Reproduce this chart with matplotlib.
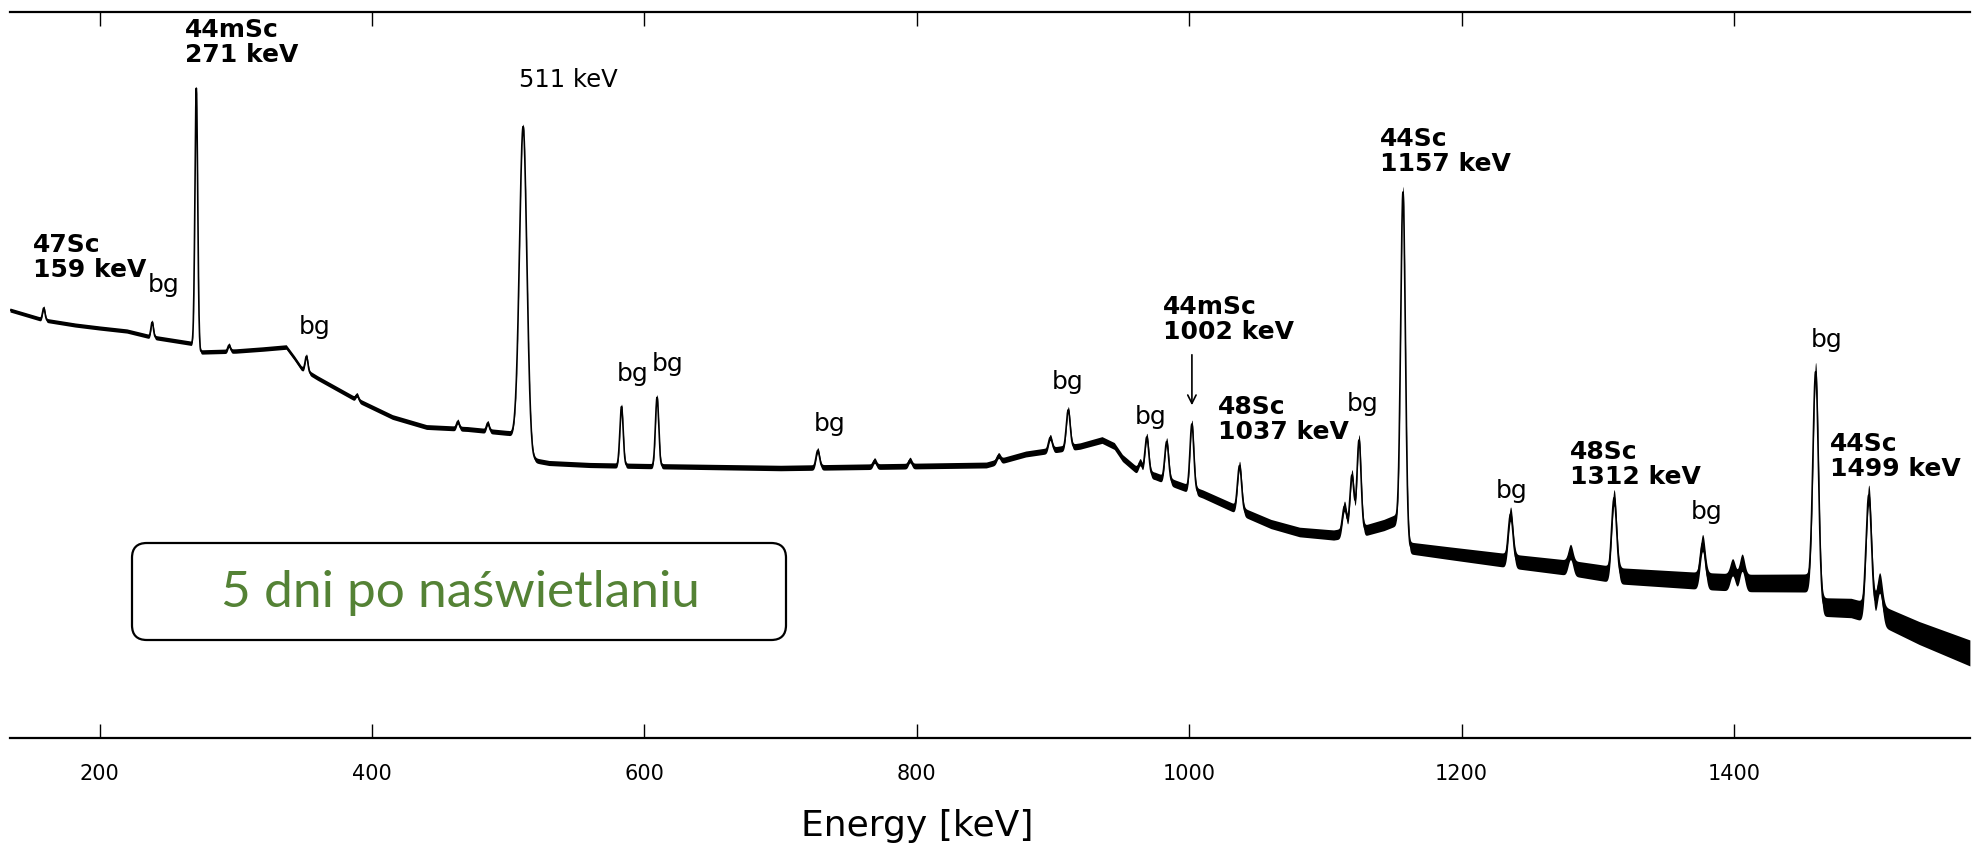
import numpy as np
import matplotlib.pyplot as plt
from matplotlib.patches import FancyBboxPatch

# continuum under the lines (counts, a.u.) at selected energies [keV]
cont_energy = [134.2, 159, 182, 200, 220, 238, 266, 269, 274, 300, 320, 337, 343, 348,
               360, 389, 415, 440, 470, 500, 505, 518, 530, 560, 600, 650, 700, 750,
               800, 851, 880, 900, 920, 936, 945, 951, 963, 975, 990, 1010, 1036, 1060,
               1081, 1106, 1130, 1143, 1152, 1162, 1190, 1236, 1280, 1318, 1377, 1410,
               1456, 1465, 1486, 1512, 1536, 1573.3]
cont_level = [428, 418, 413, 410, 407, 401, 395, 394, 386, 387, 389, 391, 380, 370,
              360, 338, 321, 311, 309, 305, 303, 278, 275, 273, 272, 271, 270, 271,
              272, 273, 284, 288, 292, 298, 292, 280, 266, 262, 254, 244, 228, 214,
              206, 203, 208, 213, 218, 190, 185, 177, 170, 162, 157, 155,
              155, 131, 130, 120, 105, 85]

# half-width of the counting scatter
noise_energy = [134.2, 500, 900, 1000, 1100, 1200, 1300, 1450, 1500, 1573.3]
noise_amp = [2.0, 2.5, 3.0, 4.0, 5.0, 6.5, 8.0, 9.0, 10.0, 13.0]

# gamma lines: energy [keV], height above continuum, sigma [keV]
peak_energy = [159, 238.6, 271, 295, 351.9, 389, 463, 485, 511, 583.2, 609.3, 727.3,
               769, 795, 860, 898, 911.2, 964, 968.9, 983.5, 1002, 1037, 1114, 1119.5,
               1124.7, 1157, 1236, 1280, 1312, 1377, 1399, 1406, 1460, 1499, 1507]
peak_height = [12, 15, 259, 6, 15, 5, 7, 8, 320, 59, 69, 17,
               6, 6, 6, 13, 38, 10, 37, 39, 66, 45, 27, 57,
               91, 342, 47, 16, 77, 38, 15, 20, 222, 118, 33]
peak_sigma = [0.9, 0.9, 1.0, 0.9, 1.0, 1.0, 1.0, 1.0, 2.7, 1.2, 1.2, 1.3,
              1.2, 1.2, 1.3, 1.3, 1.4, 1.3, 1.4, 1.4, 1.4, 1.5, 1.5, 1.5,
              1.5, 1.7, 1.7, 1.7, 1.8, 1.8, 1.8, 1.8, 2.0, 2.0, 1.9]

# identified scandium lines
iso_text = ['47Sc\n159 keV', '44mSc\n271 keV', '44mSc\n1002 keV', '48Sc\n1037 keV',
            '44Sc\n1157 keV', '48Sc\n1312 keV', '44Sc\n1499 keV']
iso_pos = [(151.1, 505), (262.7, 720), (980.9, 443), (1021, 343),
           (1140, 611), (1279.6, 298), (1470.5, 306)]

# background lines
bg_pos = [(247.3, 465), (357.5, 423), (591.6, 376), (617.3, 386), (736, 326),
          (911, 368), (972, 333), (1127, 346), (1237, 259), (1380, 238), (1468, 410)]


def build_spectrum(energy):
    counts = np.interp(energy, cont_energy, cont_level)
    for e0, h, s in zip(peak_energy, peak_height, peak_sigma):
        counts = counts + h * np.exp(-0.5 * ((energy - e0) / s) ** 2)
    return counts


def main():
    fig = plt.figure(figsize=(19.77, 8.51), dpi=100)
    ax = fig.add_axes([10 / 1977, 113 / 851, 1960 / 1977, 726.3 / 851])

    energy = np.arange(cont_energy[0], cont_energy[-1], 0.2)
    counts = build_spectrum(energy)
    amp = np.interp(energy, noise_energy, noise_amp)

    # scatter band plus the mean spectrum
    ax.fill_between(energy, counts - amp, counts + amp, color='black', lw=0)
    ax.plot(energy, counts, color='black', lw=1.2)

    ax.set_xlim(cont_energy[0], cont_energy[-1])
    ax.set_ylim(0, 726.3)
    for side in ['left', 'right']:
        ax.spines[side].set_visible(False)
    for side in ['top', 'bottom']:
        ax.spines[side].set_linewidth(1.6)
    ax.set_yticks([])
    ax.set_xticks(range(200, 1500, 200))
    ax.tick_params(axis='x', direction='in', length=10, width=1, top=True,
                   labeltop=False, labelsize=15, pad=19)

    # peak labels
    for s, (x, y) in zip(iso_text, iso_pos):
        ax.text(x, y, s, fontsize=18, fontweight='bold', ha='left', va='top',
                linespacing=1.05)
    for x, y in bg_pos:
        ax.text(x, y, 'bg', fontsize=18, ha='center', va='top')
    ax.text(544, 670, '511 keV', fontsize=17.5, ha='center', va='top')

    ax.annotate('', xy=(1002, 330), xytext=(1002, 386),
                arrowprops=dict(arrowstyle='->', lw=1.2, color='black',
                                mutation_scale=15))

    fig.text(917 / 1977, 1 - 826 / 851, 'Energy [keV]', fontsize=26,
             ha='center', va='center')

    # note box
    box = FancyBboxPatch((132 / 1977, 1 - 640 / 851), 654 / 1977, 97 / 851,
                         boxstyle='round,pad=0,rounding_size=0.0075',
                         mutation_aspect=1977 / 851, transform=fig.transFigure,
                         fc='white', ec='black', lw=1.6)
    fig.add_artist(box)
    fig.text(460 / 1977, 1 - 607 / 851, '5 dni po naświetlaniu',
             family=['Lato', 'DejaVu Sans'], fontsize=37, color='#548235',
             ha='center', va='baseline')

    fig.savefig('out.png', dpi=100)


if __name__ == "__main__":
    main()
